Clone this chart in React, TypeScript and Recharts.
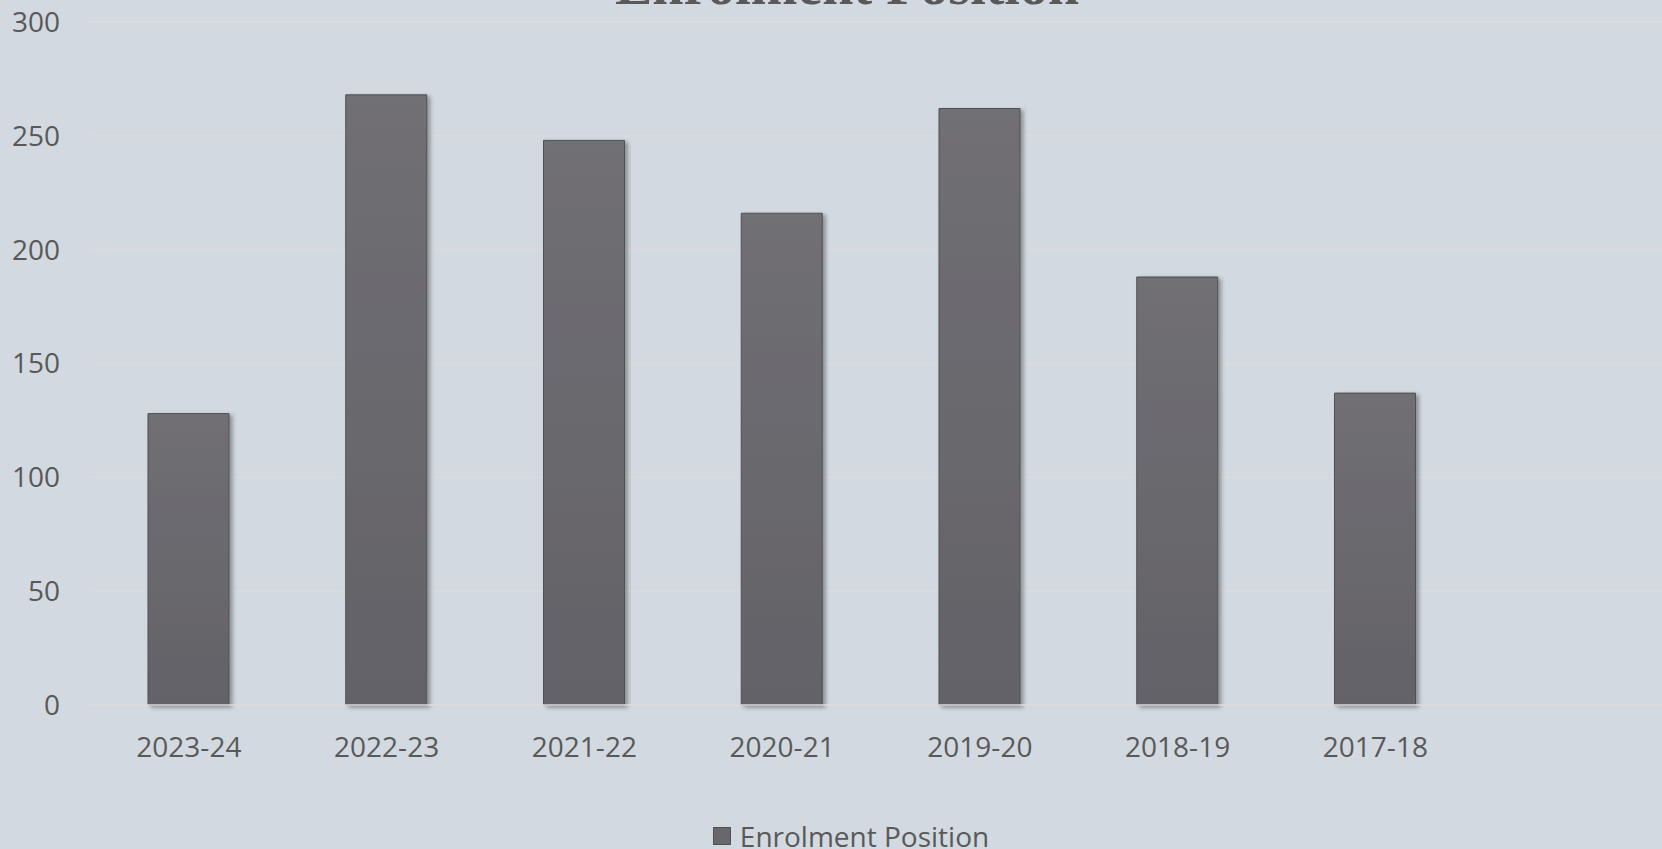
import React from "react";
import { BarChart, Bar, XAxis, YAxis, CartesianGrid, Legend } from "recharts";

// academic years, newest first; the last slot is an empty category like in the source sheet
const years = ["2023-24", "2022-23", "2021-22", "2020-21", "2019-20", "2018-19", "2017-18", ""];
const enrolment = [128, 268, 248, 216, 262, 188, 137, null];
const yTicks = [0, 50, 100, 150, 200, 250, 300];

const data = years.map((year, i) => ({ year, value: enrolment[i] }));

const textColor = "#595959";
const font = "'Open Sans', 'Noto Sans', sans-serif";

function LegendContent() {
  return (
    <div
      style={{
        height: 40,
        boxSizing: "border-box",
        paddingTop: 13,
        paddingLeft: 30,
        display: "flex",
        justifyContent: "center",
      }}
    >
      <div style={{ display: "flex", alignItems: "center", lineHeight: "28px" }}>
        <span
          style={{
            width: 18,
            height: 18,
            background: "#68676c",
            border: "1px solid #505055",
            boxSizing: "border-box",
            marginRight: 9,
          }}
        />
        <span style={{ fontFamily: font, fontSize: 28, color: textColor }}>
          Enrolment Position
        </span>
      </div>
    </div>
  );
}

export default function App() {
  return (
    <div
      style={{
        position: "fixed",
        left: 0,
        top: 0,
        width: 1662,
        height: 849,
        overflow: "hidden",
        background: "#d2d9e0",
      }}
    >
      <BarChart
        width={1672}
        height={849}
        data={data}
        margin={{ top: 22, right: 0, bottom: 0, left: 0 }}
      >
        <defs>
          <linearGradient id="barFill" x1="0" y1="0" x2="0" y2="1">
            <stop offset="0%" stopColor="#706f74" />
            <stop offset="100%" stopColor="#636268" />
          </linearGradient>
          <filter id="barShadow" x="-20%" y="-5%" width="150%" height="115%">
            <feDropShadow dx="3" dy="2" stdDeviation="2" floodColor="#000" floodOpacity="0.35" />
          </filter>
        </defs>
        <CartesianGrid vertical={false} stroke="#dadcdc" strokeWidth={1.5} />
        <XAxis
          dataKey="year"
          height={104}
          axisLine={{ stroke: "#dadcdc", strokeWidth: 1.5 }}
          tickLine={false}
          tickMargin={26}
          interval={0}
          tick={{ fill: textColor, fontSize: 28, fontFamily: font }}
        />
        <YAxis
          width={90}
          domain={[0, 300]}
          ticks={yTicks}
          axisLine={false}
          tickLine={false}
          tickMargin={24}
          tick={{ fill: textColor, fontSize: 28, fontFamily: font }}
        />
        <Legend verticalAlign="bottom" content={() => <LegendContent />} />
        <Bar
          dataKey="value"
          name="Enrolment Position"
          barSize={81}
          fill="url(#barFill)"
          stroke="#505055"
          strokeWidth={1}
          filter="url(#barShadow)"
          isAnimationActive={false}
        />
      </BarChart>
      <svg
        width={1662}
        height={849}
        style={{ position: "absolute", left: 0, top: 0, pointerEvents: "none" }}
      >
        <text
          x={847}
          y={4}
          textAnchor="middle"
          fontFamily="'Liberation Serif', 'DejaVu Serif', serif"
          fontWeight="bold"
          fontSize={56}
          fill={textColor}
        >
          Enrolment Position
        </text>
      </svg>
    </div>
  );
}
